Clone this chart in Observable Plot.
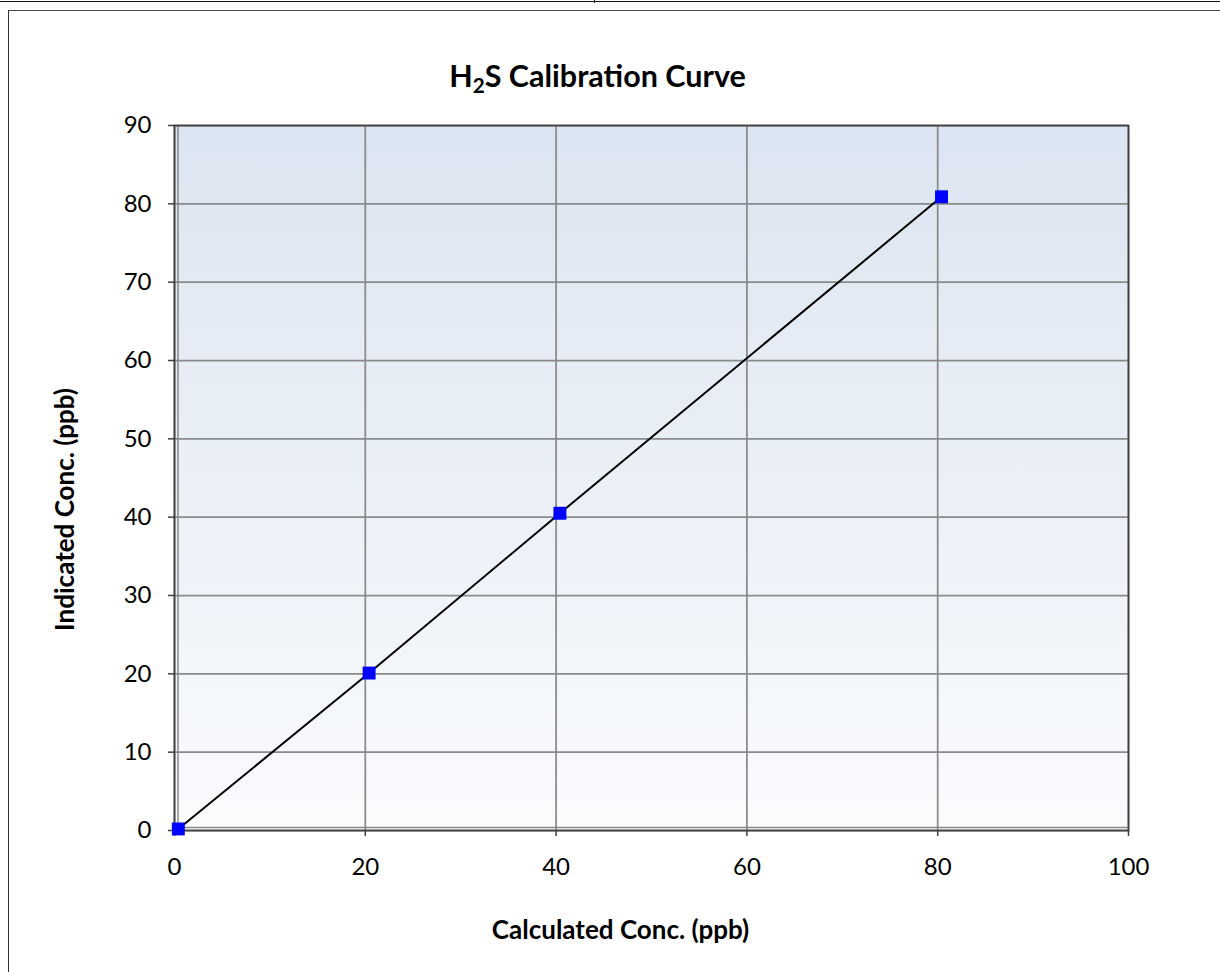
<!DOCTYPE html>
<html>
<head>
<meta charset="utf-8">
<script src="https://cdn.jsdelivr.net/npm/d3@7"></script>
<script src="https://cdn.jsdelivr.net/npm/@observablehq/plot@0.6"></script>
<style>
  html, body { margin: 0; padding: 0; background: #fff; }
  #wrap { position: relative; width: 1220px; height: 972px; overflow: hidden; font-family: Lato, "Open Sans", sans-serif; }
  #topline { position: absolute; left: 0; top: 1px; width: 1220px; height: 1px; background: #111; }
  #toptick { position: absolute; left: 594px; top: 0; width: 1px; height: 3px; background: #111; }
  #frame { position: absolute; left: 8px; top: 10px; width: 1230px; height: 980px; border-left: 1px solid #333; border-top: 1.5px solid #444; box-sizing: border-box; }
  #titlebox { position: relative; height: 100px; }
  #title { position: absolute; left: 0; width: 1195px; top: 60px; text-align: center; font-weight: bold; font-size: 30.5px; line-height: 1; color: #000; }
  #title sub { font-size: 0.68em; vertical-align: baseline; position: relative; top: 0.3em; }
  #chart { position: relative; }
</style>
</head>
<body>
<div id="wrap">
  <div id="topline"></div>
  <div id="toptick"></div>
  <div id="frame"></div>
  <div id="titlebox"><div id="title"></div></div>
  <div id="chart"></div>
</div>
<script>
// ---- data ----
const titleMain = "S Calibration Curve";
const titleChem = "H";
const titleSub = "2";
const xLabel = "Calculated Conc. (ppb)";
const yLabel = "Indicated Conc. (ppb)";
const calculated = [0.4, 20.4, 40.4, 80.4];
const indicated = [0.2, 20.1, 40.5, 80.9];
const xTicks = [0, 20, 40, 60, 80, 100];
const yTicks = [0, 10, 20, 30, 40, 50, 60, 70, 80, 90];

const data = calculated.map((x, i) => ({x, y: indicated[i]}));

document.getElementById("title").innerHTML =
  titleChem + "<sub>" + titleSub + "</sub>" + titleMain;

const gridColor = "#8a8a8a";

const chart = Plot.plot({
  width: 1220,
  height: 872,
  marginLeft: 174,
  marginRight: 92,
  marginTop: 25,
  marginBottom: 142,
  x: {domain: [0, 100], ticks: xTicks, label: null},
  y: {domain: [0, 90], ticks: yTicks, label: null},
  style: {fontFamily: "Lato, 'Open Sans', sans-serif", fontSize: "24px", color: "#000", background: "transparent", overflow: "visible"},
  marks: [
    Plot.frame({fill: "url(#bgGrad)"}),
    Plot.gridX(xTicks, {stroke: gridColor, strokeOpacity: 1, strokeWidth: 1.75}),
    Plot.gridY(yTicks, {stroke: gridColor, strokeOpacity: 1, strokeWidth: 1.75}),
    Plot.ruleX([0], {stroke: gridColor, strokeWidth: 1.5, dx: 3.5}),
    Plot.ruleY([0], {stroke: gridColor, strokeWidth: 1.5, dy: -3}),
    Plot.frame({stroke: "#404040", strokeWidth: 1.75}),
    Plot.axisX({ticks: xTicks, tickSize: 6, tickPadding: 21, label: null, stroke: "#404040", strokeWidth: 1.5, fontSize: 24}),
    Plot.axisY({ticks: yTicks, tickSize: 6, tickPadding: 17, label: null, stroke: "#404040", strokeWidth: 1.5, fontSize: 24}),
    Plot.line(data, {x: "x", y: "y", stroke: "#000", strokeWidth: 2}),
    Plot.dot(data, {x: "x", y: "y", symbol: "square", r: 7.3, fill: "#0000ff", stroke: null}),
    Plot.text([yLabel], {frameAnchor: "left", textAnchor: "middle", lineAnchor: "middle", text: d => d, rotate: -90, dx: -109, dy: 31.5, fontWeight: "bold", fontSize: 26, fill: "#000"}),
    Plot.text([xLabel], {frameAnchor: "bottom", textAnchor: "middle", lineAnchor: "middle", text: d => d, dx: -31, dy: 100, fontWeight: "bold", fontSize: 26, fill: "#000"})
  ]
});

// gradient definition for the plot-area background
const ns = "http://www.w3.org/2000/svg";
const defs = document.createElementNS(ns, "defs");
defs.innerHTML = `<linearGradient id="bgGrad" x1="0" y1="0" x2="0" y2="1">
  <stop offset="0" stop-color="#dbe5f1"/>
  <stop offset="1" stop-color="#fafbfd"/>
</linearGradient>`;
chart.insertBefore(defs, chart.firstChild);

document.getElementById("chart").appendChild(chart);
</script>
</body>
</html>
